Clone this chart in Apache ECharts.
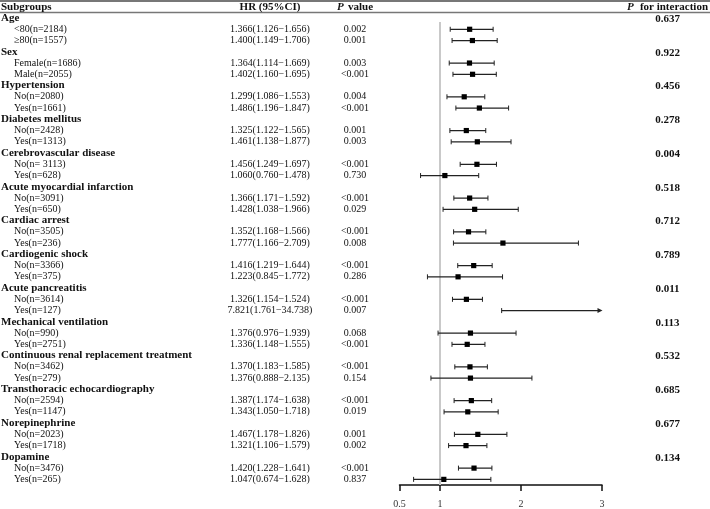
<!DOCTYPE html>
<html>
<head>
<meta charset="utf-8">
<script src="https://cdn.jsdelivr.net/npm/echarts@6/dist/echarts.min.js"></script>
<style>html,body{margin:0;padding:0;background:#fff}#c{width:710px;height:509px}</style>
</head>
<body>
<div id="c"></div>
<script>
const groups = ['Age','Sex','Hypertension','Diabetes mellitus','Cerebrovascular disease','Acute myocardial infarction','Cardiac arrest','Cardiogenic shock','Acute pancreatitis','Mechanical ventilation','Continuous renal replacement treatment','Transthoracic echocardiography','Norepinephrine','Dopamine'];
const pInteraction = ['0.637','0.922','0.456','0.278','0.004','0.518','0.712','0.789','0.011','0.113','0.532','0.685','0.677','0.134'];
const subLabels = ['<80(n=2184)','≥80(n=1557)','Female(n=1686)','Male(n=2055)','No(n=2080)','Yes(n=1661)','No(n=2428)','Yes(n=1313)','No(n= 3113)','Yes(n=628)','No(n=3091)','Yes(n=650)','No(n=3505)','Yes(n=236)','No(n=3366)','Yes(n=375)','No(n=3614)','Yes(n=127)','No(n=990)','Yes(n=2751)','No(n=3462)','Yes(n=279)','No(n=2594)','Yes(n=1147)','No(n=2023)','Yes(n=1718)','No(n=3476)','Yes(n=265)'];
const hr = [1.366,1.400,1.364,1.402,1.299,1.486,1.325,1.461,1.456,1.060,1.366,1.428,1.352,1.777,1.416,1.223,1.326,7.821,1.376,1.336,1.370,1.376,1.387,1.343,1.467,1.321,1.420,1.047];
const lo = [1.126,1.149,1.114,1.160,1.086,1.196,1.122,1.138,1.249,0.760,1.171,1.038,1.168,1.166,1.219,0.845,1.154,1.761,0.976,1.148,1.183,0.888,1.174,1.050,1.178,1.106,1.228,0.674];
const hi = [1.656,1.706,1.669,1.695,1.553,1.847,1.565,1.877,1.697,1.478,1.592,1.966,1.566,2.709,1.644,1.772,1.524,34.738,1.939,1.555,1.585,2.135,1.638,1.718,1.826,1.579,1.641,1.628];
const pValues = ['0.002','0.001','0.003','<0.001','0.004','<0.001','0.001','0.003','<0.001','0.730','<0.001','0.029','<0.001','0.008','<0.001','0.286','<0.001','0.007','0.068','<0.001','<0.001','0.154','<0.001','0.019','0.001','0.002','<0.001','0.837'];
const xTicks = [0.5, 1, 2, 3];
const xMin = 0.5, xMax = 3;

// Build rows: each group header followed by its two subgroups
const rows = [];
const forestData = [];
groups.forEach((g, gi) => {
  rows.push({kind: 'group', label: g, pint: pInteraction[gi]});
  for (let k = 0; k < 2; k++) {
    const i = gi * 2 + k;
    const r = rows.length;
    rows.push({kind: 'sub', label: subLabels[i],
      hrText: hr[i].toFixed(3) + '(' + lo[i].toFixed(3) + '\u2212' + hi[i].toFixed(3) + ')',
      p: pValues[i]});
    forestData.push([r, hr[i], lo[i], hi[i]]);
  }
});
const rowNames = rows.map(r => r.label);

const FONT = '"Liberation Serif", "Times New Roman", serif';
const TXT = '#111';

const chart = echarts.init(document.getElementById('c'), null, {renderer: 'canvas'});

function textEl(x, y, text, opts) {
  return {type: 'text', x: x, y: y, silent: true,
    style: Object.assign({text: text, fontFamily: FONT, fontSize: 10, fill: TXT,
      align: 'left', verticalAlign: 'middle'}, opts || {})};
}

const option = {
  animation: false,
  backgroundColor: '#fff',
  grid: {left: 399.5, top: 12.4, width: 202.5, height: 473.3, containLabel: false},
  xAxis: {
    type: 'value', min: xMin, max: xMax,
    axisLine: {show: true, onZero: false, lineStyle: {color: '#111', width: 1.5}},
    axisTick: {show: true, customValues: xTicks, inside: false, length: 6, lineStyle: {color: '#111', width: 1.5}},
    axisLabel: {show: true, customValues: xTicks, margin: 14, color: '#333', fontFamily: FONT, fontSize: 10,
      formatter: v => String(v)},
    splitLine: {show: false}
  },
  yAxis: {
    type: 'category', data: rowNames, inverse: true, show: false
  },
  graphic: [
    {type: 'line', shape: {x1: 0, y1: 1, x2: 710, y2: 1}, style: {stroke: '#777', lineWidth: 2}},
    {type: 'line', shape: {x1: 0, y1: 12.5, x2: 710, y2: 12.5}, style: {stroke: '#777', lineWidth: 1.5}},
    {type: 'text', x: 1, y: 7, style: {text: 'Subgroups', fontFamily: FONT, fontSize: 11, fontWeight: 'bold', fill: TXT, align: 'left', verticalAlign: 'middle'}},
    {type: 'text', x: 270, y: 7, style: {text: 'HR (95%CI)', fontFamily: FONT, fontSize: 11, fontWeight: 'bold', fill: TXT, align: 'center', verticalAlign: 'middle'}},
    {type: 'text', x: 337, y: 7, style: {text: 'P', fontFamily: FONT, fontSize: 11, fontWeight: 'bold', fontStyle: 'italic', fill: TXT, align: 'left', verticalAlign: 'middle'}},
    {type: 'text', x: 348, y: 7, style: {text: 'value', fontFamily: FONT, fontSize: 11, fontWeight: 'bold', fill: TXT, align: 'left', verticalAlign: 'middle'}},
    {type: 'text', x: 627, y: 7, style: {text: 'P', fontFamily: FONT, fontSize: 11, fontWeight: 'bold', fontStyle: 'italic', fill: TXT, align: 'left', verticalAlign: 'middle'}},
    {type: 'text', x: 708, y: 7, style: {text: 'for interaction', fontFamily: FONT, fontSize: 11, fontWeight: 'bold', fill: TXT, align: 'right', verticalAlign: 'middle'}}
  ],
  series: [
    {
      // reference line at HR = 1
      type: 'custom', clip: false, silent: true,
      data: [[1, 0]],
      encode: {x: 0, y: 1},
      renderItem: function (params, api) {
        const p = api.coord([api.value(0), 0]);
        const bottom = params.coordSys.y + params.coordSys.height;
        return {type: 'line', shape: {x1: p[0], y1: p[1] + 4, x2: p[0], y2: bottom},
          style: {stroke: '#c9c9c9', lineWidth: 2}};
      }
    },
    {
      // table text columns
      type: 'custom', clip: false, silent: true,
      data: rows.map((r, i) => [xMin, i]),
      encode: {x: 0, y: 1},
      renderItem: function (params, api) {
        const r = rows[params.dataIndex];
        const y = api.coord([xMin, api.value(1)])[1];
        const ch = [];
        if (r.kind === 'group') {
          ch.push(textEl(1, y, r.label, {fontSize: 11, fontWeight: 'bold'}));
          ch.push(textEl(667.5, y + 1, r.pint, {fontSize: 11, fontWeight: 'bold', align: 'center'}));
        } else {
          ch.push(textEl(14, y, r.label, {fontSize: 10}));
          ch.push(textEl(270, y, r.hrText, {fontSize: 10, align: 'center'}));
          ch.push(textEl(355, y, r.p, {fontSize: 10, align: 'center'}));
        }
        return {type: 'group', children: ch};
      }
    },
    {
      // forest: CI lines, caps and HR squares
      type: 'custom', clip: false, silent: true,
      data: forestData,
      encode: {x: [1, 2, 3], y: 0},
      renderItem: function (params, api) {
        const row = api.value(0), h = api.value(1), l = api.value(2), u = api.value(3);
        const y = api.coord([1, row])[1];
        const xl = api.coord([l, row])[0];
        const clipped = u > xMax;
        const xu = api.coord([Math.min(u, xMax), row])[0];
        const col = '#222';
        const ch = [
          {type: 'line', shape: {x1: xl, y1: y, x2: clipped ? xu - 3 : xu, y2: y}, style: {stroke: col, lineWidth: 1.3}},
          {type: 'line', shape: {x1: xl, y1: y - 2.5, x2: xl, y2: y + 2.5}, style: {stroke: col, lineWidth: 1}}
        ];
        if (clipped) {
          ch.push({type: 'polygon', shape: {points: [[xu + 0.5, y], [xu - 4.5, y - 2.5], [xu - 4.5, y + 2.5]]}, style: {fill: col}});
        } else {
          ch.push({type: 'line', shape: {x1: xu, y1: y - 2.5, x2: xu, y2: y + 2.5}, style: {stroke: col, lineWidth: 1}});
        }
        if (h <= xMax) {
          const xh = api.coord([h, row])[0];
          ch.push({type: 'rect', shape: {x: xh - 2.6, y: y - 2.6, width: 5.2, height: 5.2}, style: {fill: '#000'}});
        }
        return {type: 'group', children: ch};
      }
    }
  ]
};
chart.setOption(option);
</script>
</body>
</html>
